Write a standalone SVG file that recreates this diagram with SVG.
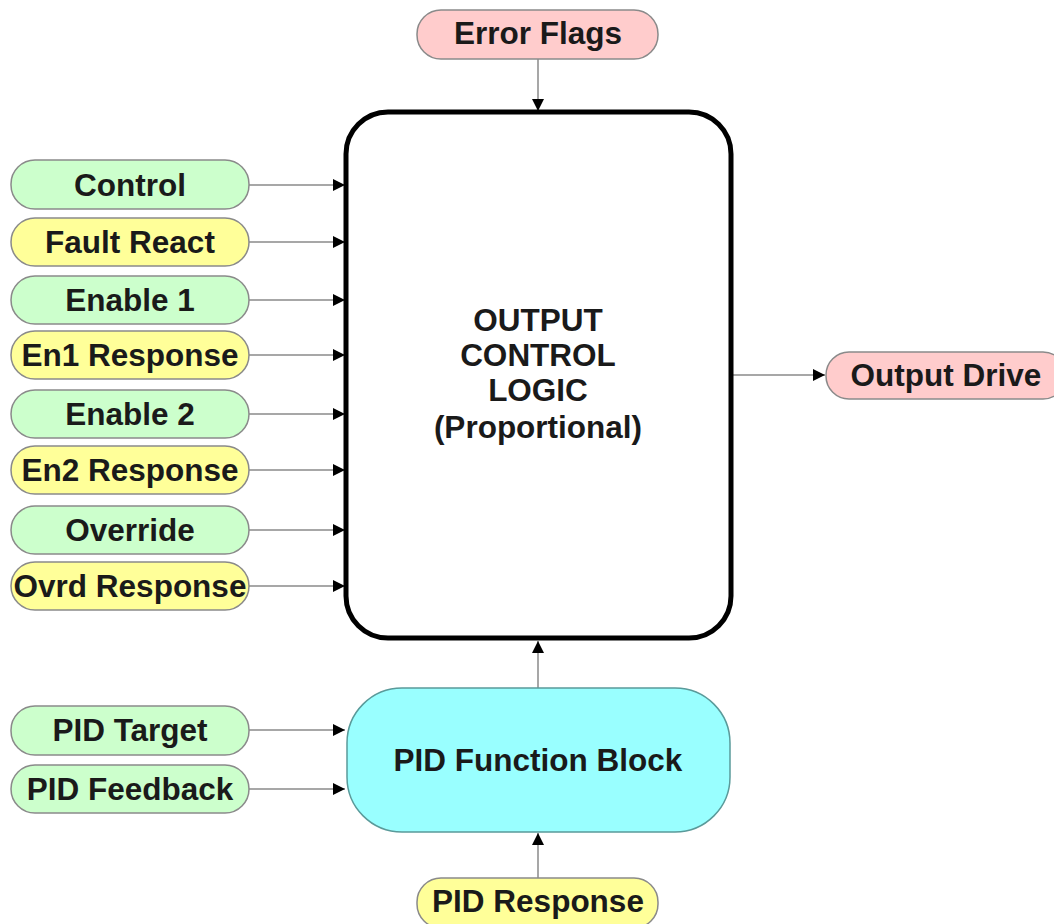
<svg xmlns="http://www.w3.org/2000/svg" width="1054" height="924" viewBox="0 0 1054 924">
<style>
.pill{stroke:#8a8a8a;stroke-width:1.5}
.g{fill:#ccffcc}.y{fill:#ffff99}.p{fill:#ffcccc}
.t{font-family:"Liberation Sans",Arial,sans-serif;font-weight:bold;font-size:31.5px;fill:#1a1a1a;text-anchor:middle}
.c{stroke:#8a8a8a;stroke-width:1.5;fill:none;marker-end:url(#ah)}
</style>
<defs>
<marker id="ah" viewBox="0 0 10 10" refX="10" refY="5" markerWidth="12" markerHeight="12" markerUnits="userSpaceOnUse" orient="auto">
<path d="M0,0 L10,5 L0,10 Z" fill="#000"/>
</marker>
</defs>
<rect width="1054" height="924" fill="#fff"/>
<g id="connectors">
<path class="c" d="M538,59 V111"/>
<path class="c" d="M249,185 H345"/>
<path class="c" d="M249,242 H345"/>
<path class="c" d="M249,300 H345"/>
<path class="c" d="M249,355 H345"/>
<path class="c" d="M249,414 H345"/>
<path class="c" d="M249,470 H345"/>
<path class="c" d="M249,530 H345"/>
<path class="c" d="M249,586 H345"/>
<path class="c" d="M732,375 H825"/>
<path class="c" d="M538,688 V641"/>
<path class="c" d="M249,730 H345"/>
<path class="c" d="M249,789 H345"/>
<path class="c" d="M538,878 V833"/>
</g>
<g id="main"><rect x="346" y="112" width="385" height="526" rx="42" fill="#fff" stroke="#000" stroke-width="5"/>
<text class="t" x="538" y="331">OUTPUT</text><text class="t" x="538" y="366">CONTROL</text><text class="t" x="538" y="401">LOGIC</text><text class="t" x="538" y="438">(Proportional)</text></g>
<g id="pid"><rect x="347" y="688" width="383" height="144" rx="55" fill="#99ffff" stroke="#5a9a9a" stroke-width="1.5"/><text class="t" x="538" y="771">PID Function Block</text></g>
<g id="errorflags"><rect class="pill p" x="417" y="10" width="241" height="49" rx="24"/><text class="t" x="538" y="44">Error Flags</text></g>
<g id="outputdrive"><rect class="pill p" x="826" y="352" width="240" height="47" rx="23"/><text class="t" x="946" y="386">Output Drive</text></g>
<g id="control"><rect class="pill g" x="11" y="160" width="238" height="49" rx="24"/><text class="t" x="130" y="196">Control</text></g>
<g id="faultreact"><rect class="pill y" x="11" y="218" width="238" height="48" rx="24"/><text class="t" x="130" y="253">Fault React</text></g>
<g id="enable1"><rect class="pill g" x="11" y="276" width="238" height="48" rx="24"/><text class="t" x="130" y="311">Enable 1</text></g>
<g id="en1response"><rect class="pill y" x="11" y="331" width="238" height="48" rx="24"/><text class="t" x="130" y="366">En1 Response</text></g>
<g id="enable2"><rect class="pill g" x="11" y="390" width="238" height="48" rx="24"/><text class="t" x="130" y="425">Enable 2</text></g>
<g id="en2response"><rect class="pill y" x="11" y="446" width="238" height="48" rx="24"/><text class="t" x="130" y="481">En2 Response</text></g>
<g id="override"><rect class="pill g" x="11" y="506" width="238" height="48" rx="24"/><text class="t" x="130" y="541">Override</text></g>
<g id="ovrdresponse"><rect class="pill y" x="11" y="562" width="238" height="48" rx="24"/><text class="t" x="130" y="597">Ovrd Response</text></g>
<g id="pidtarget"><rect class="pill g" x="11" y="706" width="238" height="49" rx="24"/><text class="t" x="130" y="741">PID Target</text></g>
<g id="pidfeedback"><rect class="pill g" x="11" y="765" width="238" height="48" rx="24"/><text class="t" x="130" y="800">PID Feedback</text></g>
<g id="pidresponse"><rect class="pill y" x="417" y="878" width="241" height="50" rx="24"/><text class="t" x="538" y="912">PID Response</text></g>
</svg>
